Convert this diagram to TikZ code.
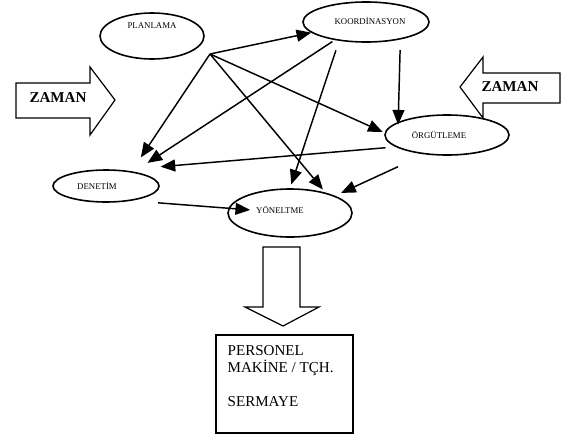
\documentclass[tikz,border=0pt]{standalone}
\usepackage{fontspec}
\setmainfont{Liberation Serif}
\usetikzlibrary{arrows.meta,shapes.geometric}

\begin{document}
\begin{tikzpicture}[x=0.75pt,y=-0.75pt,
    oval/.style={draw,ellipse,line width=1.2pt,inner sep=0pt},
    lbl/.style={font=\fontsize{6.6}{8}\selectfont},
    arr/.style={line width=1.1pt,-{Triangle[length=11pt,width=9pt]}},
    big/.style={draw,line width=0.9pt},
    zaman/.style={font=\fontsize{11.3}{13}\selectfont\bfseries}]
  \useasboundingbox (0,0) rectangle (563,443);

  % ovals
  \node[oval,minimum width=78pt,minimum height=34.5pt,label={[lbl,yshift=7.5pt]center:PLANLAMA}] (plan) at (152,36) {};
  \node[oval,minimum width=94.5pt,minimum height=30pt,label={[lbl,xshift=3pt,yshift=0.75pt]center:KOORDİNASYON}] (koor) at (366,22) {};
  \node[oval,minimum width=93pt,minimum height=30pt,label={[lbl,xshift=-6pt]center:ÖRGÜTLEME}] (org) at (447,135) {};
  \node[oval,minimum width=79.5pt,minimum height=24pt,label={[lbl,xshift=-6.75pt]center:DENETİM}] (den) at (106,186) {};
  \node[oval,minimum width=93pt,minimum height=36pt,label={[lbl,xshift=-7.5pt,yshift=2.25pt]center:YÖNELTME}] (yon) at (290,213) {};
  \coordinate (fan) at (210,54);

  % arrows between the ovals
  \foreach \from/\to/\s/\t in {fan/koor.191/0/0, fan/den.30/0/12.5, fan/org.178/0/1.5, fan/yon.30/0/3,
      koor.210/den.27/2/12, koor.215/yon.90/7.5/3, koor.-27/org.165/8/-2,
      org.193/den.45/7.5/29, org.221/yon.21/22/5, den.-30/yon.center/20/30}
    \draw[arr,shorten <=\s pt,shorten >=\t pt] (\from) -- (\to);

  % time arrows
  \draw[big] (16,83) -- (90,83) -- (90,67) -- (115,100) -- (90,135) -- (90,118) -- (16,118) -- cycle;
  \node[zaman] (zleft) at (58,98) {ZAMAN};
  \draw[big] (560,73) -- (483,73) -- (483,57) -- (460,87) -- (483,118) -- (483,103) -- (560,103) -- cycle;
  \node[zaman] (zright) at (510,87) {ZAMAN};

  % output
  \draw[big] (263,247) -- (300,247) -- (300,307) -- (319,307) -- (283,326) -- (245,307) -- (263,307) -- cycle;
  \node[big,minimum width=102.75pt,minimum height=73.5pt] (box) at (284.5,384) {};
  \node[anchor=north west,inner sep=0pt,align=left,font=\fontsize{11.3}{12.75}\selectfont] (res)
    at ([shift={(12,11)}]box.north west) {PERSONEL\\MAKİNE / TÇH.\\[12.75pt]SERMAYE};
\end{tikzpicture}
\end{document}
